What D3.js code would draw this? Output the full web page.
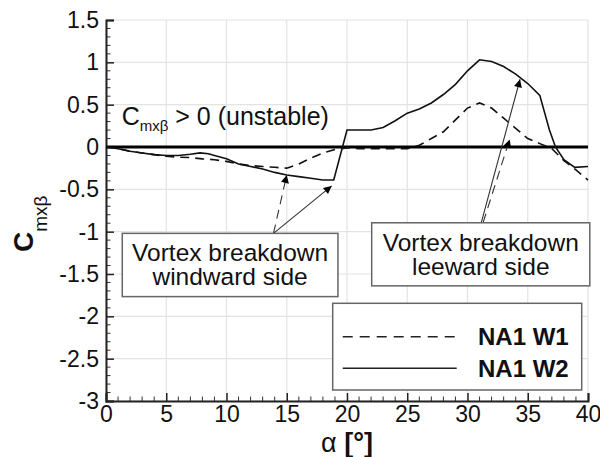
<!DOCTYPE html>
<html>
<head>
<meta charset="utf-8">
<script src="https://cdn.jsdelivr.net/npm/d3@7"></script>
<style>
  body { margin: 0; background: #fff; }
  svg { font-family: Arial, "Liberation Sans", sans-serif; }
</style>
</head>
<body>
<div id="chart"></div>
<script>
// NA1 W1 (dashed)
const w1Alpha = [0, 1, 2, 3, 4, 5, 6, 7, 8, 9, 10, 11, 12, 13, 14, 15, 16, 17, 18, 19, 20, 21, 22, 23, 24, 25, 26, 27, 28, 29, 30, 31, 32, 33, 34, 35, 36, 37, 38, 39, 40];
const w1Cm    = [0, -0.02, -0.05, -0.07, -0.09, -0.11, -0.12, -0.125, -0.14, -0.15, -0.17, -0.2, -0.22, -0.23, -0.24, -0.25, -0.2, -0.13, -0.07, -0.03, -0.01, -0.02, -0.02, -0.02, -0.02, -0.02, 0.02, 0.1, 0.18, 0.32, 0.46, 0.52, 0.46, 0.34, 0.22, 0.1, 0.04, -0.02, -0.16, -0.27, -0.39];

// NA1 W2 (solid)
const w2Alpha = [0, 1, 2, 3, 4, 5, 6, 7, 7.8, 8.5, 9, 10, 11, 12, 13, 14, 15, 16, 17, 18, 18.9, 20, 22, 23, 24, 25, 26, 27, 28, 29, 30, 31, 32, 33, 34, 35, 36, 36.8, 37.3, 38, 38.9, 40];
const w2Cm    = [0, -0.02, -0.05, -0.07, -0.09, -0.1, -0.1, -0.085, -0.07, -0.08, -0.1, -0.14, -0.2, -0.23, -0.26, -0.3, -0.33, -0.35, -0.37, -0.39, -0.39, 0.2, 0.2, 0.23, 0.31, 0.4, 0.45, 0.52, 0.62, 0.74, 0.9, 1.03, 1.01, 0.95, 0.86, 0.75, 0.61, 0.2, 0, -0.15, -0.24, -0.23];

const xTicks = [0, 5, 10, 15, 20, 25, 30, 35, 40];
const yTicks = [1.5, 1, 0.5, 0, -0.5, -1, -1.5, -2, -2.5, -3];
const seriesNames = ["NA1 W1", "NA1 W2"];

const width = 600, height = 457;
const margin = {top: 20, right: 12, bottom: 56, left: 106};
const innerW = width - margin.left - margin.right;
const innerH = height - margin.top - margin.bottom;

const svg = d3.select("#chart").append("svg")
    .attr("width", width)
    .attr("height", height);

const defs = svg.append("defs");
defs.append("marker")
    .attr("id", "arrow")
    .attr("viewBox", "0 0 10 10")
    .attr("refX", 10).attr("refY", 5)
    .attr("markerWidth", 11).attr("markerHeight", 8)
    .attr("markerUnits", "userSpaceOnUse")
    .attr("orient", "auto")
    .append("path")
    .attr("d", "M0,0 L10,5 L0,10 Z")
    .attr("fill", "#000");

const g = svg.append("g").attr("transform", `translate(${margin.left},${margin.top})`);

const x = d3.scaleLinear().domain([0, 40]).range([0, innerW]);
const y = d3.scaleLinear().domain([-3, 1.5]).range([innerH, 0]);

// grid
g.append("g").selectAll("line").data(xTicks).enter().append("line")
    .attr("x1", d => x(d)).attr("x2", d => x(d))
    .attr("y1", 0).attr("y2", innerH)
    .attr("stroke", "#e3e3e3").attr("stroke-width", 1.2);
g.append("g").selectAll("line").data(yTicks).enter().append("line")
    .attr("x1", 0).attr("x2", innerW)
    .attr("y1", d => y(d)).attr("y2", d => y(d))
    .attr("stroke", "#e3e3e3").attr("stroke-width", 1.2);

// axes (ticks pointing inward)
const xAxis = d3.axisBottom(x).tickValues(xTicks).tickSize(-8).tickPadding(5).tickFormat(d3.format("d"));
const yAxis = d3.axisLeft(y).tickValues(yTicks).tickSize(-8).tickPadding(7).tickFormat(d => String(d));

const minorX = d3.range(0, 41, 1).filter(d => d % 5 !== 0);
const minorY = d3.range(-30, 16, 1).filter(d => d % 5 !== 0).map(d => d / 10);

g.append("g").selectAll("line").data(minorX).enter().append("line")
    .attr("x1", d => x(d)).attr("x2", d => x(d))
    .attr("y1", innerH).attr("y2", innerH - 4.5)
    .attr("stroke", "#333").attr("stroke-width", 1);
g.append("g").selectAll("line").data(minorY).enter().append("line")
    .attr("x1", 0).attr("x2", 4.5)
    .attr("y1", d => y(d)).attr("y2", d => y(d))
    .attr("stroke", "#333").attr("stroke-width", 1);

const gx = g.append("g").attr("transform", `translate(0,${innerH})`).call(xAxis);
const gy = g.append("g").call(yAxis);
[gx, gy].forEach(ax => {
    ax.select(".domain").attr("stroke", "#222").attr("stroke-width", 2);
    ax.selectAll(".tick line").attr("stroke", "#222").attr("stroke-width", 1.5);
    ax.selectAll(".tick text").attr("font-size", 23).attr("fill", "#111")
        .attr("font-family", "Arial, 'Liberation Sans', sans-serif");
});

// zero line
g.append("line")
    .attr("x1", x(0)).attr("x2", x(40))
    .attr("y1", y(0)).attr("y2", y(0))
    .attr("stroke", "#000").attr("stroke-width", 3.2);

// curves
const line = d3.line().x(d => x(d[0])).y(d => y(d[1]));
const w1 = w1Alpha.map((a, i) => [a, w1Cm[i]]);
const w2 = w2Alpha.map((a, i) => [a, w2Cm[i]]);

g.append("path").datum(w1)
    .attr("d", line).attr("fill", "none")
    .attr("stroke", "#111").attr("stroke-width", 1.6)
    .attr("stroke-dasharray", "9,6");
g.append("path").datum(w2)
    .attr("d", line).attr("fill", "none")
    .attr("stroke", "#111").attr("stroke-width", 1.6);

// "Cmxβ > 0 (unstable)"
const note = g.append("text")
    .attr("x", x(1.3)).attr("y", y(0.26))
    .attr("font-size", 25).attr("fill", "#111");
note.append("tspan").text("C");
note.append("tspan").attr("font-size", 15).attr("dy", 6).text("mxβ");
note.append("tspan").attr("dy", -6).text(" > 0 (unstable)");

// annotation boxes with arrows
function box(a0, a1, c0, c1, lines) {
    g.append("rect")
        .attr("x", x(a0)).attr("y", y(c0))
        .attr("width", x(a1) - x(a0)).attr("height", y(c1) - y(c0))
        .attr("fill", "#fff").attr("stroke", "#666").attr("stroke-width", 1.5);
    const cx = (x(a0) + x(a1)) / 2;
    const t = g.append("text")
        .attr("y", y(c0) + 28)
        .attr("text-anchor", "middle")
        .attr("font-size", 24.5).attr("fill", "#111");
    lines.forEach((s, i) => {
        t.append("tspan").attr("x", cx).attr("dy", i === 0 ? 0 : 24).text(s);
    });
}
function arrow(a0, c0, a1, c1, dashed) {
    g.append("line")
        .attr("x1", x(a0)).attr("y1", y(c0))
        .attr("x2", x(a1)).attr("y2", y(c1))
        .attr("stroke", "#333").attr("stroke-width", 1.1)
        .attr("stroke-dasharray", dashed ? "9,6" : null)
        .attr("marker-end", "url(#arrow)");
}

arrow(13.9, -1.02, 15.0, -0.33, true);
arrow(13.9, -1.02, 18.73, -0.46, false);
box(1.35, 19.25, -1.02, -1.767, ["Vortex breakdown", "windward side"]);

arrow(31.3, -0.89, 33.5, 0.09, true);
arrow(31.15, -0.89, 34.36, 0.8, false);
box(22.05, 40.15, -0.895, -1.64, ["Vortex breakdown", "leeward side"]);

// legend
const lg = g.append("g").attr("transform", `translate(${332.7 - margin.left},${303.3 - margin.top})`);
lg.append("rect")
    .attr("width", 249).attr("height", 86.7)
    .attr("fill", "#fff").attr("stroke", "#666").attr("stroke-width", 1.5);
seriesNames.forEach((name, i) => {
    const yy = 33.4 + i * 31.6;
    lg.append("line")
        .attr("x1", 10).attr("x2", 124)
        .attr("y1", yy).attr("y2", yy)
        .attr("stroke", "#222").attr("stroke-width", 1.6)
        .attr("stroke-dasharray", i === 0 ? "10,7" : null);
    lg.append("text")
        .attr("x", 236).attr("y", yy + 8.5)
        .attr("text-anchor", "end")
        .attr("font-size", 24).attr("font-weight", "bold").attr("fill", "#111")
        .text(name);
});

// axis titles
const xt = svg.append("text")
    .attr("x", margin.left + x(20)).attr("y", 452)
    .attr("text-anchor", "middle").attr("font-size", 27).attr("fill", "#111");
xt.append("tspan").text("α ");
xt.append("tspan").attr("font-weight", "bold").text("[°]");

const yt = svg.append("text")
    .attr("transform", `translate(33,252) rotate(-90)`)
    .attr("font-size", 28).attr("font-weight", "bold").attr("fill", "#111");
yt.append("tspan").text("C");
yt.append("tspan").attr("font-size", 19).attr("font-weight", "normal").attr("dy", 14).text("mxβ");
</script>
</body>
</html>
